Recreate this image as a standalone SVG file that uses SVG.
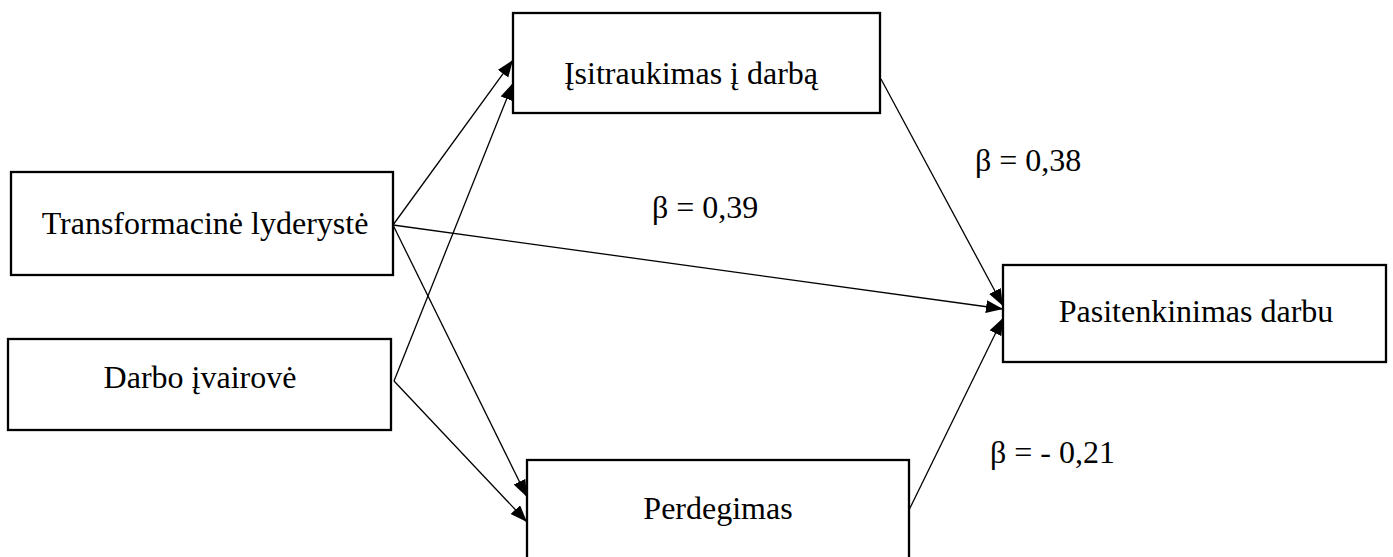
<svg xmlns="http://www.w3.org/2000/svg" width="1393" height="557" viewBox="0 0 1393 557">
  <style>
    .box { fill: #ffffff; stroke: #000000; stroke-width: 2.3; }
    .lbl { font-family: "Liberation Serif", "Times New Roman", serif; font-size: 32px; fill: #000000; }
    .edge { stroke: #000000; stroke-width: 1.3; fill: none; marker-end: url(#arrow); }
  </style>
  <defs>
    <marker id="arrow" markerUnits="userSpaceOnUse" markerWidth="18" markerHeight="14" refX="17" refY="6.5" orient="auto">
      <path d="M0,0 L17,6.5 L0,13 z" fill="#000000"/>
    </marker>
  </defs>
  <rect width="1393" height="557" fill="#ffffff"/>
  <g id="node-isitraukimas">
    <rect class="box" x="513" y="13" width="367" height="100"/>
    <text class="lbl" x="691" y="84" text-anchor="middle">Įsitraukimas į darbą</text>
  </g>
  <g id="node-transformacine">
    <rect class="box" x="11" y="172" width="382" height="103"/>
    <text class="lbl" x="205" y="234" text-anchor="middle">Transformacinė lyderystė</text>
  </g>
  <g id="node-darbo">
    <rect class="box" x="8" y="339" width="383" height="91"/>
    <text class="lbl" x="200" y="388" text-anchor="middle">Darbo įvairovė</text>
  </g>
  <g id="node-pasitenkinimas">
    <rect class="box" x="1003" y="265" width="383" height="97"/>
    <text class="lbl" x="1196" y="322" text-anchor="middle">Pasitenkinimas darbu</text>
  </g>
  <g id="node-perdegimas">
    <rect class="box" x="527" y="460" width="382" height="120"/>
    <text class="lbl" x="718" y="519" text-anchor="middle">Perdegimas</text>
  </g>
  <g id="connectors">
    <line class="edge" x1="393" y1="225" x2="513" y2="60"/>
    <line class="edge" x1="394" y1="381" x2="513" y2="83"/>
    <line class="edge" x1="393" y1="225" x2="1003" y2="309"/>
    <line class="edge" x1="393" y1="225" x2="527" y2="497"/>
    <line class="edge" x1="394" y1="381" x2="527" y2="522"/>
    <line class="edge" x1="881" y1="79" x2="1003" y2="306"/>
    <line class="edge" x1="909" y1="510" x2="1003" y2="318"/>
  </g>
  <g id="labels">
    <text class="lbl" x="975" y="171">β = 0,38</text>
    <text class="lbl" x="652" y="218">β = 0,39</text>
    <text class="lbl" x="990" y="463">β = - 0,21</text>
  </g>
</svg>
